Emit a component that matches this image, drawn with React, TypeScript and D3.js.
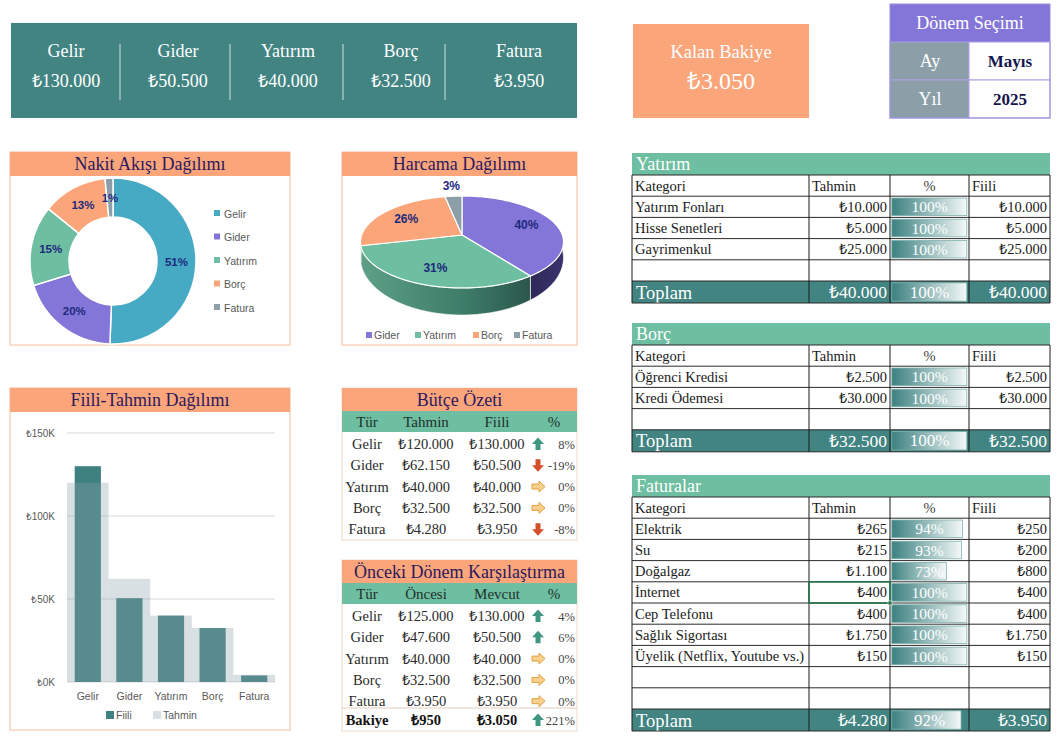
import React from "react";
import * as d3 from "d3";

// ---------- DATA ----------
const categories = ["Gelir", "Gider", "Yatırım", "Borç", "Fatura"];
const actualValues = [130000, 50500, 40000, 32500, 3950];
const forecastValues = [120000, 62150, 40000, 32500, 4280];
const previousValues = [125000, 47600, 40000, 32500, 3950];
const cashFlowLabels = ["51%", "20%", "15%", "13%", "1%"];
const spendingCategories = ["Gider", "Yatırım", "Borç", "Fatura"];
const spendingValues = [50500, 40000, 32500, 3950];
const spendingLabels = ["40%", "31%", "26%", "3%"];
const yTicks = [0, 50000, 100000, 150000];
const periodLabels = ["Ay", "Yıl"];
const periodValues = ["Mayıs", "2025"];
const investCategories = ["Yatırım Fonları", "Hisse Senetleri", "Gayrimenkul"];
const investForecast = [10000, 5000, 25000];
const investActual = [10000, 5000, 25000];
const debtCategories = ["Öğrenci Kredisi", "Kredi Ödemesi"];
const debtForecast = [2500, 30000];
const debtActual = [2500, 30000];
const billCategories = ["Elektrik", "Su", "Doğalgaz", "İnternet", "Cep Telefonu", "Sağlık Sigortası", "Üyelik (Netflix, Youtube vs.)"];
const billForecast = [265, 215, 1100, 400, 400, 1750, 150];
const billActual = [250, 200, 800, 400, 400, 1750, 150];

// ---------- STYLE ----------
const TEAL = "#428482";
const SALMON = "#FBA57B";
const GREEN = "#6EBEA1";
const PURPLE = "#8475D8";
const SLATE = "#8C9FA9";
const BLUE = "#47AAC5";
const TITLE = "#2B1A5E";
const SERIF = "Liberation Serif, serif";
const SANS = "Liberation Sans, Arial, sans-serif";
const donutColors = [BLUE, PURPLE, GREEN, SALMON, SLATE];
const spendColors = [PURPLE, GREEN, SALMON, SLATE];

const locale = d3.formatLocale({ decimal: ",", thousands: ".", grouping: [3], currency: ["₺", ""] });
const fmt = locale.format("$,.0f");

function Arrow({ x, y, dir }: { x: number; y: number; dir: number }) {
  if (dir > 0) {
    return <path transform={`translate(${x},${y})`} d="M0,-6.5L6,0L2.5,0L2.5,6L-2.5,6L-2.5,0L-6,0Z" fill="#3F9683" />;
  }
  if (dir < 0) {
    return <path transform={`translate(${x},${y})`} d="M0,6.5L6,0L2.5,0L2.5,-6L-2.5,-6L-2.5,0L-6,0Z" fill="#D4502B" />;
  }
  return <path transform={`translate(${x},${y})`} d="M7,0L1,-5.5L1,-2.5L-6,-2.5L-6,2.5L1,2.5L1,5.5Z" fill="#F6D08C" stroke="#DFA142" strokeWidth={1} />;
}

function SummaryPanel(props: { top: number; title: string; headers: string[]; names: string[]; a: number[]; b: number[]; footer?: { name: string; a: number; b: number } }) {
  const { top, title, headers, names, a, b, footer } = props;
  const x0 = 342, x1 = 577;
  const colX = [367, 426, 497];
  const arrowX = 538, pctX = 575;
  const rh = 21.3;
  const rowY = (i: number) => top + 56 + i * rh;
  const height = footer ? 171 : 152;
  const pct = (p: number, c: number) => Math.round(((c - p) / p) * 100);
  return (
    <g>
      <rect x={x0} y={top} width={x1 - x0} height={height} fill="#fff" stroke="#EAD9CC" />
      <rect x={x0} y={top} width={x1 - x0} height={23} fill={SALMON} />
      <text x={(x0 + x1) / 2} y={top + 18} textAnchor="middle" fontSize={18} fill={TITLE} fontFamily={SERIF}>{title}</text>
      <rect x={x0} y={top + 23} width={x1 - x0} height={21} fill={GREEN} />
      {headers.map((h, i) => (
        <text key={h} x={i < 3 ? colX[i] : 554} y={top + 39} textAnchor="middle" fontSize={15} fill="#1E302C" fontFamily={SERIF}>{h}</text>
      ))}
      {names.map((n, i) => {
        const p = pct(a[i], b[i]);
        return (
          <g key={n} fontFamily={SERIF} fill="#2A2A2A">
            <text x={colX[0]} y={rowY(i) + 5} textAnchor="middle" fontSize={14.5}>{n}</text>
            <text x={colX[1]} y={rowY(i) + 5} textAnchor="middle" fontSize={14.5}>{fmt(a[i])}</text>
            <text x={colX[2]} y={rowY(i) + 5} textAnchor="middle" fontSize={14.5}>{fmt(b[i])}</text>
            <Arrow x={arrowX} y={rowY(i)} dir={Math.sign(p)} />
            <text x={pctX} y={rowY(i) + 4.5} textAnchor="end" fontSize={12.5} fill="#444">{p}%</text>
          </g>
        );
      })}
      {footer && (
        <g fontFamily={SERIF} fill="#111" fontWeight="bold">
          <line x1={x0} x2={x1} y1={top + 148} y2={top + 148} stroke="#E2CDBE" />
          <text x={colX[0]} y={top + 165} textAnchor="middle" fontSize={14.5}>{footer.name}</text>
          <text x={colX[1]} y={top + 165} textAnchor="middle" fontSize={14.5}>{fmt(footer.a)}</text>
          <text x={colX[2]} y={top + 165} textAnchor="middle" fontSize={14.5}>{fmt(footer.b)}</text>
          <Arrow x={arrowX} y={top + 160} dir={Math.sign(footer.b - footer.a)} />
          <text x={pctX} y={top + 164.5} textAnchor="end" fontSize={12.5} fill="#444" fontWeight="normal">{pct(footer.a, footer.b)}%</text>
        </g>
      )}
    </g>
  );
}

function DetailTable(props: { title: string; top: number; cats: string[]; fc: number[]; ac: number[]; empty: number; selectedRow?: number }) {
  const { title, top, cats, fc, ac, empty, selectedRow } = props;
  const cols = [632, 809, 890, 969, 1050];
  const rh = 21.2, titleH = 22, totH = 22;
  const hy = top + titleH;
  const rowTop = (i: number) => hy + rh * (i + 1);
  const nBody = 1 + cats.length + empty;
  const ty = hy + nBody * rh;
  const bottom = ty + totH;
  const barMax = cols[3] - cols[2] - 4;
  const totF = d3.sum(fc), totA = d3.sum(ac);
  const bar = (y: number, h: number, p: number, fs: number) => (
    <g>
      <rect x={cols[2] + 1.8} y={y + 1.8} width={barMax * Math.min(p, 1)} height={h - 3.6} fill="url(#dbar)" stroke="#7FB2B0" strokeWidth={0.8} />
      <text x={(cols[2] + cols[3]) / 2} y={y + h / 2 + 5.5} textAnchor="middle" fill="#fff" fontSize={fs} fontFamily={SERIF}>{Math.round(p * 100)}%</text>
    </g>
  );
  const hLines = d3.range(nBody + 1).map((k) => hy + k * rh).concat([bottom]);
  return (
    <g fontFamily={SERIF}>
      <rect x={cols[0]} y={top} width={cols[4] - cols[0]} height={titleH} fill={GREEN} />
      <text x={cols[0] + 4} y={top + titleH / 2 + 6} fill="#fff" fontSize={18}>{title}</text>
      <rect x={cols[0]} y={ty} width={cols[4] - cols[0]} height={totH} fill={TEAL} />
      <g fill="#1a1a1a" fontSize={14.5}>
        <text x={cols[0] + 3} y={hy + rh / 2 + 5}>Kategori</text>
        <text x={cols[1] + 3} y={hy + rh / 2 + 5}>Tahmin</text>
        <text x={(cols[2] + cols[3]) / 2} y={hy + rh / 2 + 5} textAnchor="middle" fill="#444">%</text>
        <text x={cols[3] + 3} y={hy + rh / 2 + 5}>Fiili</text>
      </g>
      {cats.map((c, i) => (
        <g key={c} fill="#1a1a1a" fontSize={14.5}>
          <text x={cols[0] + 3} y={rowTop(i) + rh / 2 + 5}>{c}</text>
          <text x={cols[2] - 3} y={rowTop(i) + rh / 2 + 5} textAnchor="end">{fmt(fc[i])}</text>
          {bar(rowTop(i), rh, ac[i] / fc[i], 15.5)}
          <text x={cols[4] - 3} y={rowTop(i) + rh / 2 + 5} textAnchor="end">{fmt(ac[i])}</text>
        </g>
      ))}
      <g fill="#fff">
        <text x={cols[0] + 4} y={ty + totH / 2 + 6.5} fontSize={18.5}>Toplam</text>
        <text x={cols[2] - 3} y={ty + totH / 2 + 6} fontSize={17.5} textAnchor="end">{fmt(totF)}</text>
        {bar(ty, totH, totA / totF, 17)}
        <text x={cols[4] - 3} y={ty + totH / 2 + 6} fontSize={17.5} textAnchor="end">{fmt(totA)}</text>
      </g>
      {hLines.map((y, k) => (
        <line key={k} x1={cols[0]} x2={cols[4]} y1={y} y2={y} stroke="#2a2a2a" strokeWidth={1} />
      ))}
      {cols.map((x) => (
        <line key={x} x1={x} x2={x} y1={hy} y2={bottom} stroke="#1a1a1a" strokeWidth={1} />
      ))}
      {selectedRow !== undefined && (
        <g>
          <rect x={cols[1]} y={rowTop(selectedRow)} width={cols[2] - cols[1]} height={rh} fill="none" stroke="#217346" strokeWidth={1.6} />
          <rect x={cols[2] - 2} y={rowTop(selectedRow) + rh - 2} width={4} height={4} fill="#217346" stroke="#fff" strokeWidth={0.6} />
        </g>
      )}
    </g>
  );
}

export default function App() {
  // KPI layout
  const kpiX = [66, 178, 288, 401, 519];
  const kpiDiv = [120, 230, 343, 445];
  const balance = actualValues[0] - d3.sum(actualValues.slice(1));
  const prevBalance = previousValues[0] - d3.sum(previousValues.slice(1));

  // Donut
  const pie = d3.pie<number>().sort(null).value((d) => d);
  const donutArcs = pie(actualValues);
  const arc = d3.arc<d3.PieArcDatum<number>>().innerRadius(44).outerRadius(83);
  const donutC = [113, 261];

  // 3D pie
  const spendArcs = pie(spendingValues);
  const P = { cx: 462, cy: 235, A: 100.3, B: 44.9, k: 0.152, cyb: 249.3, Bb: 55.7 };
  const proj = (t: number, r = 1, bottom = false): [number, number] => {
    const s = Math.sin(t) * r, c = Math.cos(t) * r;
    const d = 1 + P.k * c;
    return [P.cx + (P.A * s) / d, (bottom ? P.cyb : P.cy) - ((bottom ? P.Bb : P.B) * c) / d];
  };
  const sample = (a0: number, a1: number) => {
    const n = Math.max(2, Math.ceil(((a1 - a0) * 180) / Math.PI));
    return d3.range(n + 1).map((j) => a0 + ((a1 - a0) * j) / n);
  };
  const topPath = (a0: number, a1: number) => {
    const pts = sample(a0, a1).map((t) => proj(t));
    return `M${P.cx},${P.cy}L` + pts.map((p) => p.join(",")).join("L") + "Z";
  };
  const sidePath = (a0: number, a1: number) => {
    const s = Math.max(a0, Math.PI / 2), e = Math.min(a1, (3 * Math.PI) / 2);
    if (s >= e) return null;
    const ts = sample(s, e);
    const top = ts.map((t) => proj(t));
    const bot = ts.slice().reverse().map((t) => proj(t, 1, true));
    return "M" + top.concat(bot).map((p) => p.join(",")).join("L") + "Z";
  };
  const sideFills = ["url(#sideGider)", "url(#sideYat)", "#B06C4C", "#5E6F77"];

  // Bar chart
  const x = d3.scaleBand<string>().domain(categories).range([67, 275]).padding(0);
  const y = d3.scaleLinear().domain([0, 150000]).range([682, 433]);
  const fiiliW = x.bandwidth() * 0.63;

  return (
    <svg width={1060} height={750} style={{ position: "absolute", left: 0, top: 0, background: "#fff" }} fontFamily={SERIF}>
      <defs>
        <linearGradient id="dbar" x1="0" x2="1" y1="0" y2="0">
          <stop offset="0" stopColor="#3C8180" />
          <stop offset="1" stopColor="#F4F8F8" />
        </linearGradient>
        <linearGradient id="sideYat" gradientUnits="userSpaceOnUse" x1={360} x2={535} y1={0} y2={0}>
          <stop offset="0" stopColor="#5EA088" />
          <stop offset="0.6" stopColor="#3D7C68" />
          <stop offset="1" stopColor="#2A5448" />
        </linearGradient>
        <linearGradient id="sideGider" gradientUnits="userSpaceOnUse" x1={530} x2={565} y1={0} y2={0}>
          <stop offset="0" stopColor="#2E2A58" />
          <stop offset="1" stopColor="#3A336E" />
        </linearGradient>
      </defs>

      {/* KPI band */}
      <rect x={11} y={23} width={566} height={95} fill={TEAL} />
      {kpiDiv.map((dx) => (
        <line key={dx} x1={dx} x2={dx} y1={44} y2={100} stroke="#fff" strokeOpacity={0.75} strokeWidth={1} />
      ))}
      {categories.map((c, i) => (
        <g key={c} fill="#fff" textAnchor="middle" fontSize={18}>
          <text x={kpiX[i]} y={57}>{c}</text>
          <text x={kpiX[i]} y={87}>{fmt(actualValues[i])}</text>
        </g>
      ))}

      {/* Kalan Bakiye */}
      <rect x={633} y={24} width={176} height={94} fill={SALMON} />
      <text x={721} y={58} textAnchor="middle" fill="#fff" fontSize={18.5}>Kalan Bakiye</text>
      <text x={721} y={89} textAnchor="middle" fill="#fff" fontSize={24}>{fmt(balance)}</text>

      {/* Dönem Seçimi */}
      <rect x={890} y={4} width={160} height={38} fill={PURPLE} />
      <text x={970} y={29} textAnchor="middle" fill="#fff" fontSize={18}>Dönem Seçimi</text>
      {periodLabels.map((l, i) => (
        <g key={l}>
          <rect x={890} y={42 + i * 38} width={79} height={38} fill={SLATE} stroke="#A9A0E4" strokeWidth={1} />
          <rect x={969} y={42 + i * 38} width={81} height={38} fill="#fff" stroke="#A9A0E4" strokeWidth={1} />
          <text x={930} y={42 + i * 38 + 25} textAnchor="middle" fill="#fff" fontSize={18}>{l}</text>
          <text x={1010} y={42 + i * 38 + 25} textAnchor="middle" fill="#15154F" fontSize={17} fontWeight="bold">{periodValues[i]}</text>
        </g>
      ))}
      <rect x={890} y={4} width={160} height={114} fill="none" stroke="#9A8FDD" strokeWidth={1} />

      {/* Nakit Akışı Dağılımı */}
      <rect x={10} y={152} width={280} height={193} fill="#fff" stroke="#F6BE9C" />
      <rect x={10} y={152} width={280} height={24} fill={SALMON} />
      <text x={150} y={170} textAnchor="middle" fill={TITLE} fontSize={18}>Nakit Akışı Dağılımı</text>
      <g transform={`translate(${donutC[0]},${donutC[1]})`}>
        {donutArcs.map((a, i) => (
          <path key={i} d={arc(a) || ""} fill={donutColors[i]} stroke="#fff" strokeWidth={1.5} />
        ))}
        {donutArcs.map((a, i) => {
          const [lx, ly] = arc.centroid(a);
          return (
            <text key={i} x={lx} y={ly + 4} textAnchor="middle" fontFamily={SANS} fontWeight="bold" fontSize={11.5} fill="#1D2A7C">{cashFlowLabels[i]}</text>
          );
        })}
      </g>
      {categories.map((c, i) => (
        <g key={c} fontFamily={SANS}>
          <rect x={214} y={210 + i * 23.5} width={6} height={6} fill={donutColors[i]} />
          <text x={224} y={217.5 + i * 23.5} fontSize={10.5} fill="#595959">{c}</text>
        </g>
      ))}

      {/* Harcama Dağılımı */}
      <rect x={342} y={152} width={235} height={193} fill="#fff" stroke="#F6BE9C" />
      <rect x={342} y={152} width={235} height={24} fill={SALMON} />
      <text x={459.5} y={170} textAnchor="middle" fill={TITLE} fontSize={18}>Harcama Dağılımı</text>
      {spendArcs.map((a, i) => {
        const d = sidePath(a.startAngle, a.endAngle);
        return d ? <path key={"s" + i} d={d} fill={sideFills[i]} stroke="#fff" strokeWidth={0.6} /> : null;
      })}
      {spendArcs.map((a, i) => (
        <path key={"t" + i} d={topPath(a.startAngle, a.endAngle)} fill={spendColors[i]} stroke="#fff" strokeWidth={1.2} strokeLinejoin="round" />
      ))}
      {spendArcs.map((a, i) => {
        const mid = (a.startAngle + a.endAngle) / 2;
        const small = a.endAngle - a.startAngle < 0.3;
        const [lx, ly] = proj(mid, small ? 1.3 : 0.7);
        return (
          <text key={"l" + i} x={lx} y={ly + 4} textAnchor="middle" fontFamily={SANS} fontWeight="bold" fontSize={12} fill="#1D2A7C">{spendingLabels[i]}</text>
        );
      })}
      {spendingCategories.map((c, i) => {
        const lx = [366, 415, 473, 514][i];
        return (
          <g key={c} fontFamily={SANS}>
            <rect x={lx} y={332} width={6} height={6} fill={spendColors[i]} />
            <text x={lx + 8} y={339} fontSize={10.5} fill="#595959">{c}</text>
          </g>
        );
      })}

      {/* Fiili-Tahmin Dağılımı */}
      <rect x={10} y={388} width={280} height={342} fill="#fff" stroke="#F6BE9C" />
      <rect x={10} y={388} width={280} height={24} fill={SALMON} />
      <text x={150} y={406} textAnchor="middle" fill={TITLE} fontSize={18}>Fiili-Tahmin Dağılımı</text>
      {yTicks.map((t) => (
        <g key={t} fontFamily={SANS}>
          <line x1={67} x2={275} y1={y(t)} y2={y(t)} stroke="#D9D9D9" />
          <text x={55} y={y(t) + 3.5} textAnchor="end" fontSize={10} fill="#595959">{"₺" + t / 1000 + "K"}</text>
        </g>
      ))}
      {categories.map((c, i) => (
        <rect key={"f" + c} x={(x(c) as number) + (x.bandwidth() - fiiliW) / 2} y={y(actualValues[i])} width={fiiliW} height={y(0) - y(actualValues[i])} fill="#3F8180" />
      ))}
      {categories.map((c, i) => (
        <rect key={"t" + c} x={x(c) as number} y={y(forecastValues[i])} width={x.bandwidth()} height={y(0) - y(forecastValues[i])} fill="#8CA0AB" fillOpacity={0.33} />
      ))}
      {categories.map((c) => (
        <text key={"x" + c} x={(x(c) as number) + x.bandwidth() / 2} y={700} textAnchor="middle" fontFamily={SANS} fontSize={10.5} fill="#595959">{c}</text>
      ))}
      <g fontFamily={SANS} fontSize={10.5} fill="#595959">
        <rect x={106} y={711} width={8} height={8} fill="#3F8180" />
        <text x={116} y={719}>Fiili</text>
        <rect x={153} y={711} width={8} height={8} fill="#D9DFE2" />
        <text x={163} y={719}>Tahmin</text>
      </g>

      {/* Bütçe Özeti */}
      <SummaryPanel top={388} title="Bütçe Özeti" headers={["Tür", "Tahmin", "Fiili", "%"]} names={categories} a={forecastValues} b={actualValues} />

      {/* Önceki Dönem Karşılaştırma */}
      <SummaryPanel top={560} title="Önceki Dönem Karşılaştırma" headers={["Tür", "Öncesi", "Mevcut", "%"]} names={categories} a={previousValues} b={actualValues} footer={{ name: "Bakiye", a: prevBalance, b: balance }} />

      {/* Right tables */}
      <DetailTable title="Yatırım" top={153} cats={investCategories} fc={investForecast} ac={investActual} empty={1} />
      <DetailTable title="Borç" top={323} cats={debtCategories} fc={debtForecast} ac={debtActual} empty={1} />
      <DetailTable title="Faturalar" top={475} cats={billCategories} fc={billForecast} ac={billActual} empty={2} selectedRow={3} />
    </svg>
  );
}
